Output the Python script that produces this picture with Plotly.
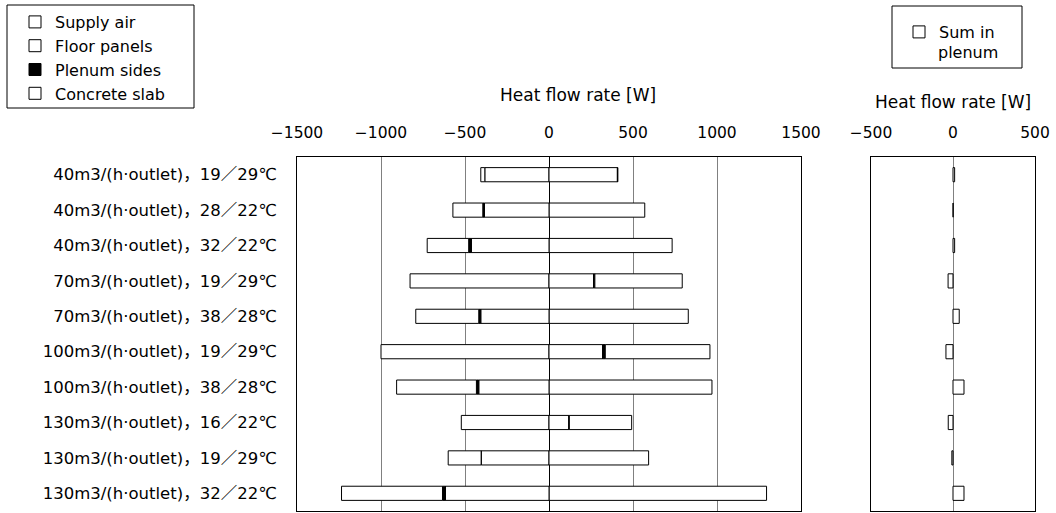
import plotly.graph_objects as go

# Test cases: air volume per outlet and temperature pair
conditions = [
    "40m3/(h·outlet)，19／29℃",
    "40m3/(h·outlet)，28／22℃",
    "40m3/(h·outlet)，32／22℃",
    "70m3/(h·outlet)，19／29℃",
    "70m3/(h·outlet)，38／28℃",
    "100m3/(h·outlet)，19／29℃",
    "100m3/(h·outlet)，38／28℃",
    "130m3/(h·outlet)，16／22℃",
    "130m3/(h·outlet)，19／29℃",
    "130m3/(h·outlet)，32／22℃",
]

# Heat flow rates [W] of each plenum boundary
supply_air = [-382, 570, 733, -827, 829, -1000, 970, -522, -402, 1295]
floor_panels = [407, -384, -462, 265, -406, 319, -418, 118, 593, -616]
plenum_sides = [3, -10, -16, 8, -12, 16, -14, 3, -2, -18]
concrete_slab = [-24, -178, -247, 520, -375, 623, -475, 371, -196, -601]

# Net heat flow rate in the plenum [W]
sum_in_plenum = [10, 1, 10, -30, 38, -43, 67, -29, -7, 67]

main_ticks = [-1500, -1000, -500, 0, 500, 1000, 1500]
sum_ticks = [-500, 0, 500]

W, H = 1056, 513
FONT = "DejaVu Sans, Noto Sans CJK JP"


def px_x(p):
    return p / W


def px_y(p):
    return 1 - p / H


fig = go.Figure()

series = [
    ("Supply air", supply_air, "white"),
    ("Floor panels", floor_panels, "white"),
    ("Plenum sides", plenum_sides, "black"),
    ("Concrete slab", concrete_slab, "white"),
]
for name, values, color in series:
    fig.add_trace(go.Bar(
        y=conditions, x=values, name=name, orientation="h",
        marker=dict(color=color, line=dict(color="black", width=1)),
        xaxis="x", yaxis="y", legend="legend",
    ))

fig.add_trace(go.Bar(
    y=conditions, x=sum_in_plenum, name="Sum in", orientation="h",
    marker=dict(color="white", line=dict(color="black", width=1)),
    xaxis="x2", yaxis="y2", legend="legend2",
))

y_dom = [px_y(511), px_y(157)]

fig.update_layout(
    width=W, height=H,
    margin=dict(l=0, r=0, t=0, b=0, autoexpand=False),
    paper_bgcolor="white", plot_bgcolor="white",
    font=dict(family=FONT, size=16, color="black"),
    barmode="relative", bargap=0.6,
    showlegend=True,
    xaxis=dict(
        domain=[px_x(297), px_x(801)], range=[-1500, 1500], side="top",
        tickvals=main_ticks, ticks="", showgrid=True, gridcolor="#808080",
        gridwidth=1, zeroline=True, zerolinecolor="black", zerolinewidth=1,
        showline=True, linecolor="black", linewidth=1, mirror=True,
        ticklabelstandoff=12, fixedrange=True, automargin=False,
        tickfont=dict(size=15.5),
    ),
    yaxis=dict(
        domain=y_dom, categoryorder="array", categoryarray=conditions,
        autorange="reversed", ticks="", showgrid=False,
        showline=True, linecolor="black", linewidth=1, mirror=True,
        ticklabelstandoff=16, fixedrange=True, automargin=False,
        tickfont=dict(size=16.5),
    ),
    xaxis2=dict(
        domain=[px_x(871), px_x(1035)], range=[-500, 500], side="top",
        anchor="y2", tickvals=sum_ticks, ticks="", showgrid=False,
        zeroline=True, zerolinecolor="#808080", zerolinewidth=1,
        showline=True, linecolor="black", linewidth=1, mirror=True,
        ticklabelstandoff=12, fixedrange=True, automargin=False,
        tickfont=dict(size=15.5),
    ),
    yaxis2=dict(
        domain=y_dom, anchor="x2", categoryorder="array",
        categoryarray=conditions, autorange="reversed",
        showticklabels=False, ticks="", showgrid=False,
        showline=True, linecolor="black", linewidth=1, mirror=True,
        fixedrange=True, automargin=False,
    ),
    legend=dict(
        x=px_x(15), y=px_y(5), xanchor="left", yanchor="top",
        bgcolor="rgba(0,0,0,0)", borderwidth=0, traceorder="normal",
        tracegroupgap=0, font=dict(family=FONT, size=16, color="black"),
    ),
    legend2=dict(
        x=px_x(899), y=px_y(15), xanchor="left", yanchor="top",
        bgcolor="rgba(0,0,0,0)", borderwidth=0,
        font=dict(family=FONT, size=16, color="black"),
    ),
    shapes=[
        dict(type="rect", xref="paper", yref="paper",
             x0=px_x(7), x1=px_x(194), y0=px_y(108), y1=px_y(5),
             line=dict(color="black", width=1)),
        dict(type="rect", xref="paper", yref="paper",
             x0=px_x(892), x1=px_x(1022), y0=px_y(68), y1=px_y(6),
             line=dict(color="black", width=1)),
    ],
    annotations=[
        # second line of the "Sum in plenum" legend label
        dict(text="plenum", xref="paper", yref="paper",
             x=px_x(936), y=px_y(52), showarrow=False,
             xanchor="left", yanchor="middle", font=dict(size=16)),
        dict(text="Heat flow rate [W]", xref="paper", yref="paper",
             x=px_x(578), y=px_y(95), showarrow=False,
             xanchor="center", yanchor="middle", font=dict(size=17)),
        dict(text="Heat flow rate [W]", xref="paper", yref="paper",
             x=px_x(953), y=px_y(102), showarrow=False,
             xanchor="center", yanchor="middle", font=dict(size=17)),
    ],
)

fig.write_html("out.html")
